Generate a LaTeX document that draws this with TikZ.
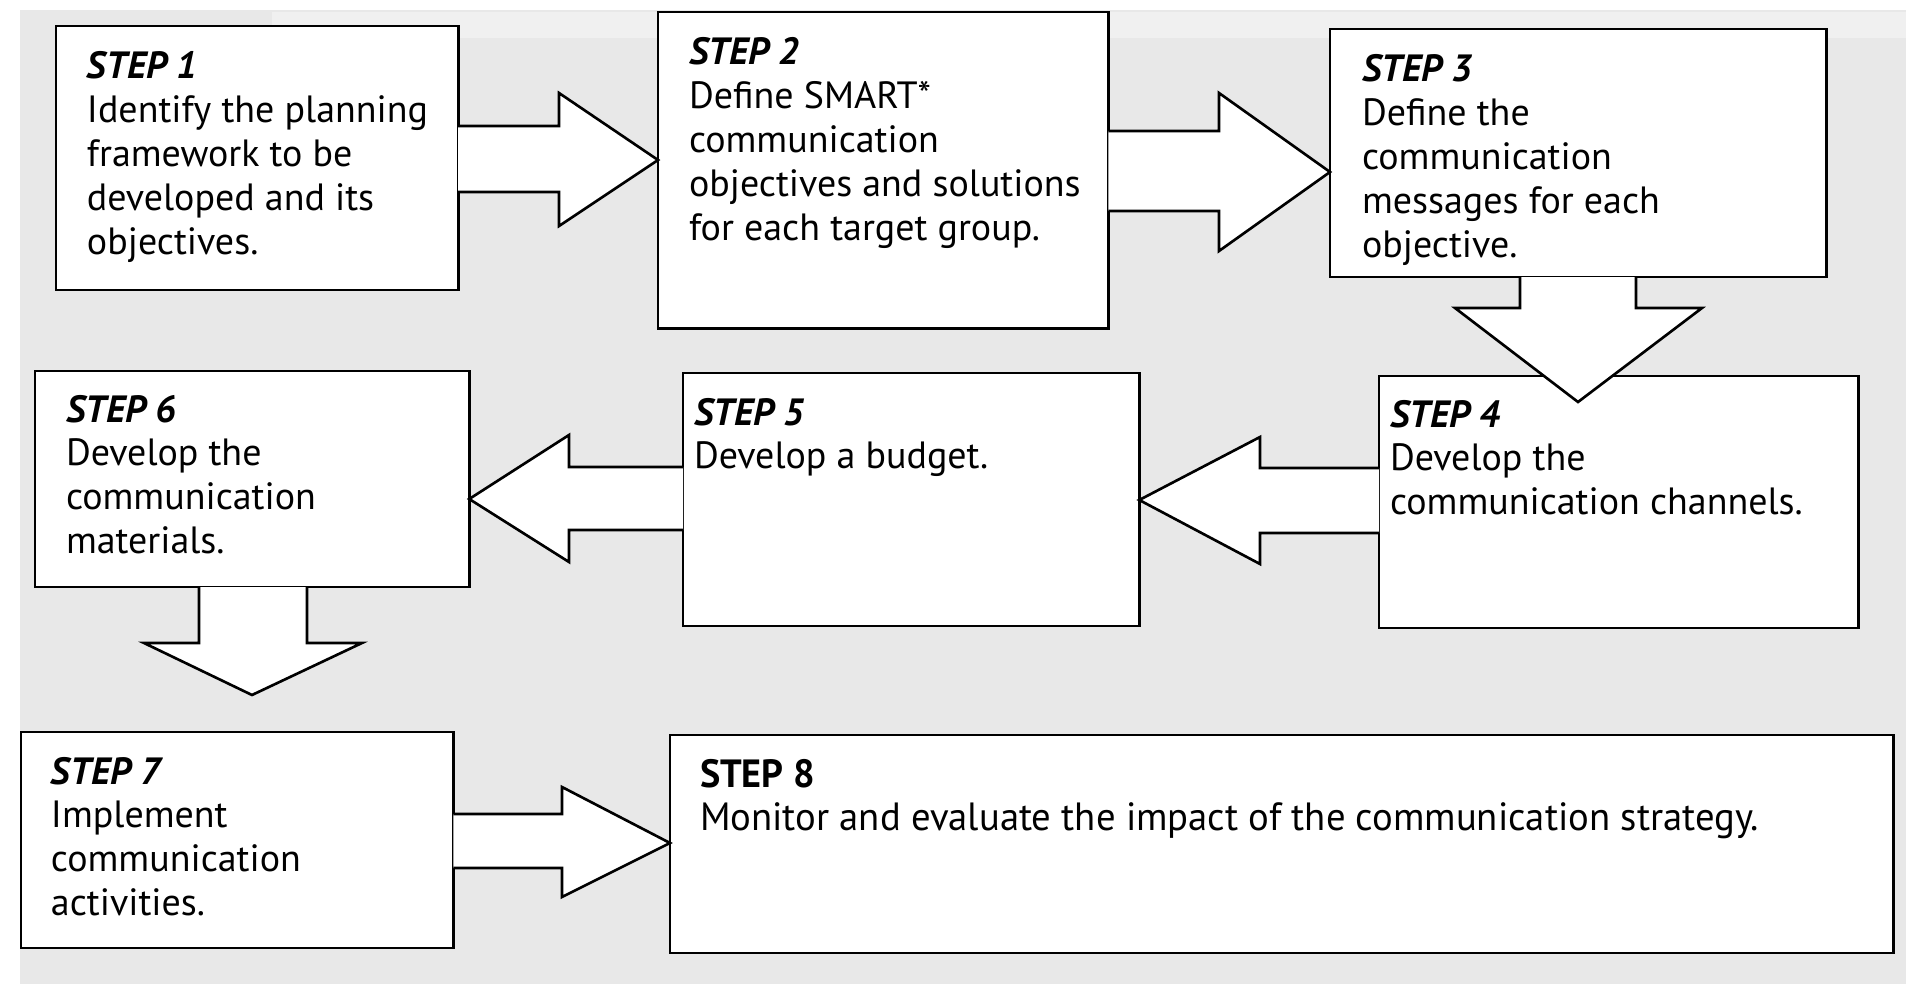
\documentclass[tikz,border=0pt]{standalone}
\usepackage{fontspec}
\usepackage{graphicx}
\setmainfont{PT Sans}
\usetikzlibrary{calc}
\definecolor{bggrey}{RGB}{232,232,232}
\definecolor{bglight}{RGB}{240,240,240}
\begin{document}
\begin{tikzpicture}[x=0.01cm,y=-0.01cm, line width=0.75pt,
  stepbox/.style={draw=black, fill=white, rectangle, inner sep=0pt, outer sep=0pt, anchor=north west},
  blockarrow/.style={fill=white, draw=black, line join=miter},
  steptext/.style={anchor=base west, inner sep=0pt, outer sep=0pt},
  body/.style={font=\fontsize{10.8}{12.5}\selectfont}]
\useasboundingbox (0,0) rectangle (1906,997);
\fill[bggrey] (20,10) rectangle (1906,984);
\fill[bglight] (272,12) rectangle (1906,38);
% boxes
\node[stepbox, minimum width=4.02cm, minimum height=2.64cm] (s1) at (56,26) {};
\node[stepbox, minimum width=4.50cm, minimum height=3.16cm] (s2) at (658,12) {};
\node[stepbox, minimum width=4.96cm, minimum height=2.48cm] (s3) at (1330,29) {};
\node[stepbox, minimum width=4.79cm, minimum height=2.52cm] (s4) at (1379,376) {};
\node[stepbox, minimum width=4.56cm, minimum height=2.53cm] (s5) at (683,373) {};
\node[stepbox, minimum width=4.34cm, minimum height=2.16cm] (s6) at (35,371) {};
\node[stepbox, minimum width=4.32cm, minimum height=2.16cm] (s7) at (21,732) {};
\node[stepbox, minimum width=12.23cm, minimum height=2.18cm] (s8) at (670,735) {};
% block arrows
\path[blockarrow] (s1.east |- 0,126) -- (559,126) -- (559,93) -- (s2.west |- 0,160) -- (559,226) -- (559,192) -- (s1.east |- 0,192);
\path[blockarrow] (s2.east |- 0,131) -- (1219,131) -- (1219,93) -- (s3.west |- 0,172) -- (1219,251) -- (1219,211) -- (s2.east |- 0,211);
\path[blockarrow] (s3.south -| 1520,0) -- (1520,308) -- (1455,308) -- (1578,402) -- (1702,308) -- (1636,308) -- (s3.south -| 1636,0);
\path[blockarrow] (s4.west |- 0,468) -- (1260,468) -- (1260,437) -- (s5.east |- 0,500) -- (1260,564) -- (1260,533) -- (s4.west |- 0,533);
\path[blockarrow] (s5.west |- 0,467) -- (569,467) -- (569,435) -- (s6.east |- 0,499) -- (569,562) -- (569,530) -- (s5.west |- 0,530);
\path[blockarrow] (s6.south -| 199,0) -- (199,643) -- (144,643) -- (252,695) -- (362,643) -- (307,643) -- (s6.south -| 307,0);
\path[blockarrow] (s7.east |- 0,814) -- (562,814) -- (562,787) -- (s8.west |- 0,843) -- (562,897) -- (562,868) -- (s7.east |- 0,868);
% texts
\node[steptext, body] (t1) at ($(s1.north west)+(31,53)$) {\parbox[t]{10cm}{\raggedright\textbf{\textit{STEP 1}}\\Identify the planning\\framework to be\\developed and its\\objectives.}};
\node[steptext, body] (t2) at ($(s2.north west)+(31,53)$) {\parbox[t]{10cm}{\raggedright\textbf{\textit{STEP 2}}\\Define SMART*\\communication\\objectives and solutions\\for each target group.}};
\node[steptext, body] (t3) at ($(s3.north west)+(32,53)$) {\parbox[t]{10cm}{\raggedright\textbf{\textit{STEP 3}}\\Define the\\communication\\messages for each\\objective.}};
\node[steptext, body] (t4) at ($(s4.north west)+(11,51)$) {\parbox[t]{10cm}{\raggedright\textbf{\textit{STEP 4}}\\Develop the\\communication channels.}};
\node[steptext, body] (t5) at ($(s5.north west)+(11,52)$) {\parbox[t]{10cm}{\raggedright\textbf{\textit{STEP 5}}\\Develop a budget.}};
\node[steptext, body] (t6) at ($(s6.north west)+(31,51)$) {\parbox[t]{10cm}{\raggedright\textbf{\textit{STEP 6}}\\Develop the\\communication\\materials.}};
\node[steptext, body] (t7) at ($(s7.north west)+(30,52)$) {\parbox[t]{10cm}{\raggedright\textbf{\textit{STEP 7}}\\Implement\\communication\\activities.}};
\node[steptext, font=\fontsize{11.2}{12.5}\selectfont] (t8) at ($(s8.north west)+(30,52)$) {\parbox[t]{12cm}{\raggedright\resizebox{1.15cm}{\height}{\textbf{STEP 8}}\\\resizebox{10.58cm}{\height}{Monitor and evaluate the impact of the communication strategy.}}};
\end{tikzpicture}
\end{document}
